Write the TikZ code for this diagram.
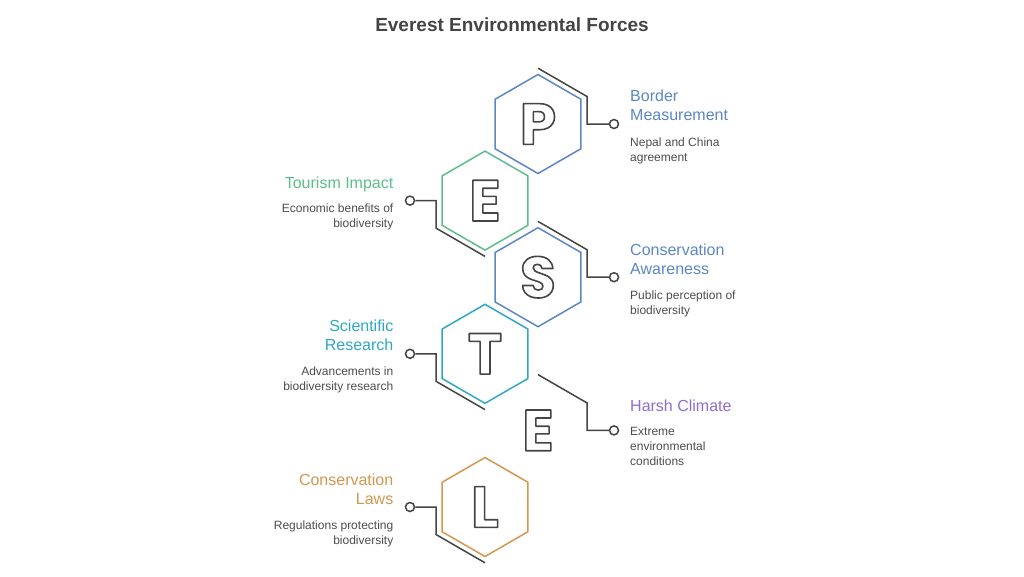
\documentclass[tikz,border=0pt]{standalone}
\usepackage{fontspec}
\setmainfont{Liberation Sans}
\newfontfamily\letterfont{Poppins}
\usetikzlibrary{shapes.geometric}
\definecolor{titleC}{HTML}{444444}
\definecolor{descC}{HTML}{4D4D4D}
\definecolor{lineC}{HTML}{454545}
\definecolor{blueC}{HTML}{5B87C5}
\definecolor{greenC}{HTML}{5DBE8C}
\definecolor{tealC}{HTML}{2FA8C2}
\definecolor{purpleC}{HTML}{8E6FD1}
\definecolor{orangeC}{HTML}{D4974E}
\newcommand\outlinedletter[1]{\special{pdf:literal 1 Tr 1.6 w 1 j}#1\special{pdf:literal 0 Tr 0 j}}
\tikzset{
  hexbox/.style={regular polygon, regular polygon sides=6, shape border rotate=90,
    minimum size=99pt, inner sep=0pt, line width=1.5pt, draw, fill=white,
    text=lineC, font=\letterfont\bfseries\fontsize{58}{62}\selectfont},
  plainletter/.style={inner sep=0pt, text=lineC, font=\letterfont\bfseries\fontsize{58}{62}\selectfont},
  conn/.style={draw=lineC, line width=1.5pt},
  dot/.style={circle, draw=lineC, line width=1.5pt, fill=white, minimum size=9pt, inner sep=0pt},
  ttlR/.style={anchor=north west, align=left, inner sep=0pt, font=\fontsize{16}{19}\selectfont},
  ttlL/.style={anchor=north east, align=right, inner sep=0pt, font=\fontsize{16}{19}\selectfont},
  dscR/.style={anchor=north west, align=left, inner sep=0pt, text=descC, font=\fontsize{12}{15}\selectfont},
  dscL/.style={anchor=north east, align=right, inner sep=0pt, text=descC, font=\fontsize{12}{15}\selectfont}
}
\begin{document}
\begin{tikzpicture}[x=1pt,y=-1pt]
\useasboundingbox (0,0) rectangle (1024,576);
\fill[white] (0,0) rectangle (1024,576);

\node[anchor=base, text=titleC, font=\bfseries\fontsize{19}{22}\selectfont] (title) at (512,31.5) {Everest Environmental Forces};

% hexagons
\node[hexbox, draw=blueC]   (hP) at (538,124)   {\outlinedletter{P}};
\node[hexbox, draw=greenC]  (hE) at (485,200.6) {\outlinedletter{E}};
\node[hexbox, draw=blueC]   (hS) at (538,277.2) {\outlinedletter{S}};
\node[hexbox, draw=tealC]   (hT) at (485,353.8) {\outlinedletter{T}};
\node[plainletter]          (hX) at (538,430.4) {\outlinedletter{E}};
\node[hexbox, draw=orangeC] (hL) at (485,507)   {\outlinedletter{L}};

% dots
\node[dot] (cP) at (614,124) {};
\node[dot] (cE) at (410,200.6) {};
\node[dot] (cS) at (614,277.2) {};
\node[dot] (cT) at (410,353.8) {};
\node[dot] (cX) at (614,430.4) {};
\node[dot] (cL) at (410,507) {};

% connectors right
\draw[conn] (hP.center) ++(0,-55.8) -- ++(49,28.3) -- ++(0,27.5) -- (cP);
\draw[conn] (hS.center) ++(0,-55.8) -- ++(49,28.3) -- ++(0,27.5) -- (cS);
\draw[conn] (hX.center) ++(0,-55.8) -- ++(49,28.3) -- ++(0,27.5) -- (cX);
% connectors left
\draw[conn] (hE.center) ++(0,55.8) -- ++(-49,-28.3) -- ++(0,-27.5) -- (cE);
\draw[conn] (hT.center) ++(0,55.8) -- ++(-49,-28.3) -- ++(0,-27.5) -- (cT);
\draw[conn] (hL.center) ++(0,55.8) -- ++(-49,-28.3) -- ++(0,-27.5) -- (cL);

% texts right
\node[ttlR, text=blueC] (tP) at (630,90) {Border\\Measurement};
\node[dscR] (dP) at (630,137.3) {Nepal and China\\agreement};
\node[ttlR, text=blueC] (tS) at (630,243.5) {Conservation\\Awareness};
\node[dscR] (dS) at (630,290.5) {Public perception of\\biodiversity};
\node[ttlR, text=purpleC] (tX) at (630,399.5) {Harsh Climate};
\node[dscR] (dX) at (630,427.5) {Extreme\\environmental\\conditions};

% texts left
\node[ttlL, text=greenC] (tE) at (393.5,176.5) {Tourism Impact};
\node[dscL] (dE) at (393.5,204) {Economic benefits of\\biodiversity};
\node[ttlL, text=tealC] (tT) at (393.5,319.5) {Scientific\\Research};
\node[dscL] (dT) at (393.5,367) {Advancements in\\biodiversity research};
\node[ttlL, text=orangeC] (tL) at (393.5,473.5) {Conservation\\Laws};
\node[dscL] (dL) at (393.5,520.5) {Regulations protecting\\biodiversity};
\end{tikzpicture}
\end{document}
